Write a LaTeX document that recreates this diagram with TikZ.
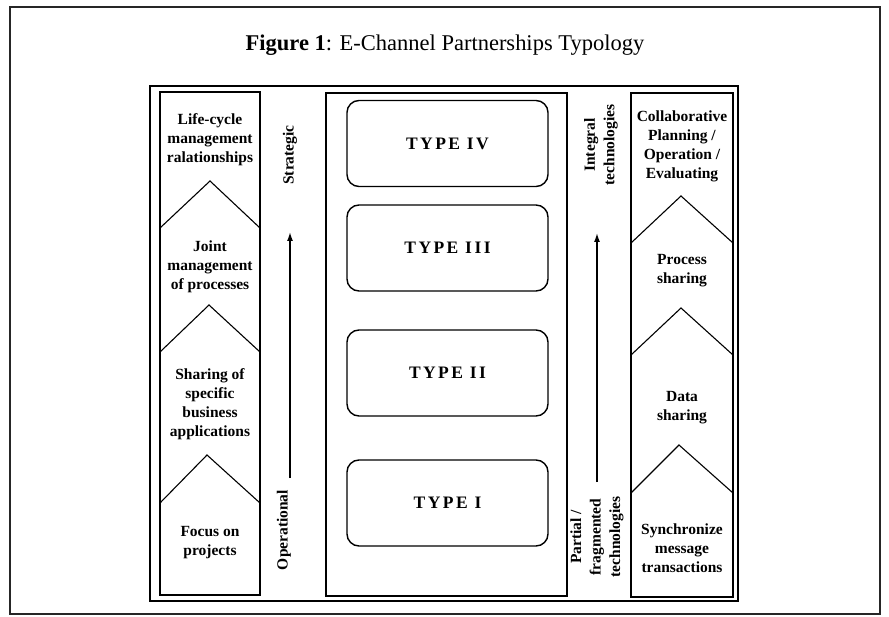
\documentclass[tikz,border=0pt]{standalone}
\usepackage{fontspec}
\setmainfont{Liberation Serif}
\newfontfamily\typefont[LetterSpace=14]{Liberation Serif}
\usetikzlibrary{arrows.meta}
\begin{document}
\begin{tikzpicture}[x=1pt,y=-1pt,
  lbl/.style={font=\bfseries\fontsize{15.5}{19}\selectfont, align=center, inner sep=0pt},
  side/.style={font=\bfseries\fontsize{15.5}{19.5}\selectfont, align=center, inner sep=0pt, rotate=90},
  typebox/.style={draw, line width=1.4pt, rounded corners=12pt, minimum width=201pt, minimum height=86pt, inner sep=0pt, font=\typefont\bfseries\fontsize{17.5}{20}\selectfont},
  chev/.style={line width=1.1pt},
  col/.style={line width=1.8pt},
  ar/.style={line width=1.5pt, -{Latex[length=9pt,width=6pt]}}
]
\useasboundingbox (0,0) rectangle (889,617);
\draw[line width=1.6pt, black!85] (10,7) rectangle (880,614);
\node[font=\fontsize{22.5}{26}\selectfont] (title) at (445,45) {\textbf{Figure 1}: E-Channel Partnerships Typology};
% frames
\draw[line width=2.4pt] (150,86) rectangle (738,601);
\draw[col] (160,92) rectangle (260,595);
\draw[col] (326,93) rectangle (567,596);
\draw[col] (631,93) rectangle (733,597);
% left chevrons
\draw[chev] (160,228) -- (210,181) -- (260,228);
\draw[chev] (160,352) -- (209,305) -- (260,352);
\draw[chev] (160,503) -- (207,455) -- (260,503);
% right chevrons
\draw[chev] (631,243) -- (681,196) -- (733,243);
\draw[chev] (631,355) -- (681,308) -- (733,355);
\draw[chev] (631,493) -- (679,445) -- (733,493);
% left texts
\node[lbl] (l4) at (210,140) {Life-cycle\\management\\ralationships};
\node[lbl] (l3) at (210,267) {Joint\\management\\of processes};
\node[lbl] (l2) at (210,404) {Sharing of\\specific\\business\\applications};
\node[lbl] (l1) at (210,543) {Focus on\\projects};
% right texts
\node[lbl] (r4) at (682,146) {Collaborative\\Planning /\\Operation /\\Evaluating};
\node[lbl] (r3) at (682,271) {Process\\sharing};
\node[lbl] (r2) at (682,408) {Data\\sharing};
\node[lbl] (r1) at (682,548) {Synchronize\\message\\transactions};
% type boxes
\node[typebox] (t4) at (447.5,143.5) {TYPE IV};
\node[typebox] (t3) at (447.5,248) {TYPE III};
\node[typebox] (t2) at (447.5,373) {TYPE II};
\node[typebox] (t1) at (447.5,503) {TYPE I};
% arrows and axis labels
\coordinate (la0) at (290,478);
\coordinate (la1) at (290,232);
\draw[ar] (la0) -- (la1);
\node[side] (strat) at (290,155) {Strategic};
\node[side] (oper) at (284,530) {Operational};
\coordinate (ra0) at (597,482);
\coordinate (ra1) at (597,233);
\draw[ar] (ra0) -- (ra1);
\node[side] (integ) at (601,145) {Integral\\technologies};
\node[side] (part) at (597,537) {Partial /\\fragmented\\technologies};
\end{tikzpicture}
\end{document}
